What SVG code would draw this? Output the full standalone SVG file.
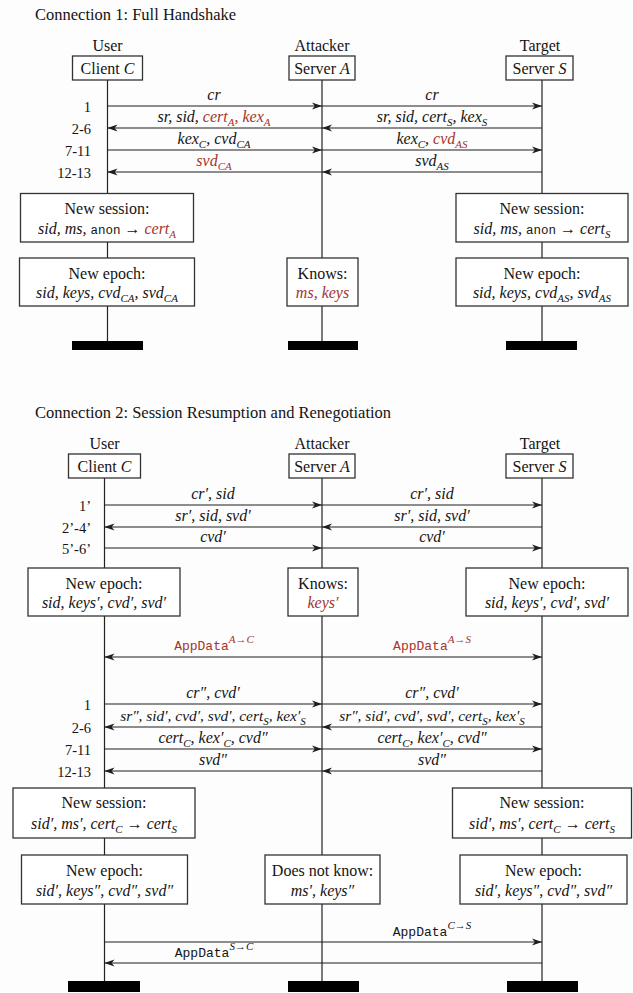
<svg xmlns="http://www.w3.org/2000/svg" width="633" height="993" viewBox="0 0 633 993" font-family="'Liberation Serif', Tinos, 'Times New Roman', 'DejaVu Serif', 'Noto Serif', serif">
<defs>
<marker id="ah" viewBox="0 0 10 8" refX="10" refY="4" markerWidth="10" markerHeight="8" markerUnits="userSpaceOnUse" orient="auto-start-reverse">
<path d="M0,0.5 L10,4 L0,7.5 L2.8,4 z" fill="#1e1e1e"/>
</marker>
<style>
.tx{font-family:'Liberation Serif', Tinos, 'Times New Roman', 'DejaVu Serif', 'Noto Serif', serif;font-size:16px;fill:#141414}
.it{font-style:italic}
.rd{fill:#a3352b}
.sb{font-size:11px}
.mo{font-family:'Liberation Mono', Cousine, 'Courier New', 'DejaVu Sans Mono', monospace;font-size:12.5px;font-style:normal}
.ad{font-size:13px}
.num{font-size:14.5px}
.ttl{font-size:16.5px}
.sm{font-size:15.4px}
.box{fill:#ffffff;stroke:#333;stroke-width:1.3}
.life{stroke:#222;stroke-width:1.2;fill:none}
.msg{stroke:#1e1e1e;stroke-width:1.2;fill:none;marker-end:url(#ah)}
.bi{stroke:#1e1e1e;stroke-width:1.2;fill:none;marker-end:url(#ah);marker-start:url(#ah)}
.bar{fill:#000}
.mid{text-anchor:middle}
.end{text-anchor:end}
</style>
</defs>
<rect width="633" height="993" fill="#fdfdfd"/>

<!-- ================= Connection 1 ================= -->
<text class="tx ttl" x="35" y="20">Connection 1: Full Handshake</text>

<g id="lifelines1">
<line class="life" x1="107.5" y1="80" x2="107.5" y2="341"/>
<line class="life" x1="322" y1="80" x2="322" y2="341"/>
<line class="life" x1="542" y1="80" x2="542" y2="341"/>
</g>

<g id="c1-client">
<text class="tx mid" x="107.5" y="51">User</text>
<rect class="box" x="72.5" y="56" width="70" height="24"/>
<text class="tx mid" x="107.5" y="74">Client <tspan class="it">C</tspan></text>
</g>
<g id="c1-attacker">
<text class="tx mid" x="322" y="51">Attacker</text>
<rect class="box" x="289" y="56" width="66" height="24"/>
<text class="tx mid" x="322" y="74">Server <tspan class="it">A</tspan></text>
</g>
<g id="c1-target">
<text class="tx mid" x="540" y="51">Target</text>
<rect class="box" x="506" y="56" width="67" height="24"/>
<text class="tx mid" x="539.5" y="74">Server <tspan class="it">S</tspan></text>
</g>

<g id="c1-steps">
<text class="tx num end" x="91" y="111.5">1</text>
<text class="tx num end" x="91" y="133.5">2-6</text>
<text class="tx num end" x="91" y="155.5">7-11</text>
<text class="tx num end" x="91" y="177.5">12-13</text>
</g>

<g id="c1-connectors">
<line class="msg" x1="107.5" y1="106" x2="322" y2="106"/>
<line class="msg" x1="322" y1="106" x2="542" y2="106"/>
<line class="msg" x1="322" y1="128" x2="107.5" y2="128"/>
<line class="msg" x1="542" y1="128" x2="322" y2="128"/>
<line class="msg" x1="107.5" y1="150" x2="322" y2="150"/>
<line class="msg" x1="322" y1="150" x2="542" y2="150"/>
<line class="msg" x1="322" y1="172" x2="107.5" y2="172"/>
<line class="msg" x1="542" y1="172" x2="322" y2="172"/>
</g>

<g id="c1-labels">
<text class="tx it mid" x="214" y="100">cr</text>
<text class="tx it mid" x="432" y="100">cr</text>
<text class="tx it mid" x="214" y="122">sr, sid, <tspan class="rd">cert<tspan class="sb" dy="4">A</tspan><tspan dy="-4">, kex</tspan><tspan class="sb" dy="4">A</tspan></tspan></text>
<text class="tx it mid" x="432" y="122">sr, sid, cert<tspan class="sb" dy="4">S</tspan><tspan dy="-4">, kex</tspan><tspan class="sb" dy="4">S</tspan></text>
<text class="tx it mid" x="214" y="144">kex<tspan class="sb" dy="4">C</tspan><tspan dy="-4">, cvd</tspan><tspan class="sb" dy="4">CA</tspan></text>
<text class="tx it mid" x="432" y="144">kex<tspan class="sb" dy="4">C</tspan><tspan dy="-4">, </tspan><tspan class="rd">cvd<tspan class="sb" dy="4">AS</tspan></tspan></text>
<text class="tx it mid rd" x="214" y="166">svd<tspan class="sb" dy="4">CA</tspan></text>
<text class="tx it mid" x="432" y="166">svd<tspan class="sb" dy="4">AS</tspan></text>
</g>

<g id="c1-client-session">
<rect class="box" x="20.5" y="193.5" width="173" height="48.5"/>
<text class="tx mid" x="107" y="213.5">New session:</text>
<text class="tx mid" x="107" y="233.5"><tspan class="it">sid, ms, </tspan><tspan class="mo">anon</tspan> → <tspan class="it rd">cert<tspan class="sb" dy="4">A</tspan></tspan></text>
</g>
<g id="c1-target-session">
<rect class="box" x="456" y="193.5" width="172" height="48.5"/>
<text class="tx mid" x="542" y="213.5">New session:</text>
<text class="tx mid" x="542" y="233.5"><tspan class="it">sid, ms, </tspan><tspan class="mo">anon</tspan> → <tspan class="it">cert<tspan class="sb" dy="4">S</tspan></tspan></text>
</g>
<g id="c1-client-epoch">
<rect class="box" x="19.5" y="258" width="175" height="48"/>
<text class="tx mid" x="107" y="279">New epoch:</text>
<text class="tx it mid" x="107" y="298">sid, keys, cvd<tspan class="sb" dy="4">CA</tspan><tspan dy="-4">, svd</tspan><tspan class="sb" dy="4">CA</tspan></text>
</g>
<g id="c1-attacker-knows">
<rect class="box" x="287" y="258" width="71" height="48"/>
<text class="tx mid" x="322.5" y="279">Knows:</text>
<text class="tx it mid rd" x="322.5" y="298">ms, keys</text>
</g>
<g id="c1-target-epoch">
<rect class="box" x="456" y="258" width="172" height="48"/>
<text class="tx mid" x="542" y="279">New epoch:</text>
<text class="tx it mid" x="542" y="298">sid, keys, cvd<tspan class="sb" dy="4">AS</tspan><tspan dy="-4">, svd</tspan><tspan class="sb" dy="4">AS</tspan></text>
</g>
<g id="c1-ends">
<rect class="bar" x="72" y="341" width="71" height="9"/>
<rect class="bar" x="288" y="341" width="70" height="9"/>
<rect class="bar" x="506" y="341" width="71" height="9"/>
</g>

<!-- ================= Connection 2 ================= -->
<text class="tx ttl" x="35" y="418">Connection 2: Session Resumption and Renegotiation</text>

<g id="lifelines2">
<line class="life" x1="104.5" y1="478" x2="104.5" y2="981"/>
<line class="life" x1="322" y1="478" x2="322" y2="981"/>
<line class="life" x1="542" y1="478" x2="542" y2="981"/>
</g>

<g id="c2-client">
<text class="tx mid" x="104.5" y="449">User</text>
<rect class="box" x="68.5" y="454" width="72" height="24"/>
<text class="tx mid" x="104.5" y="472">Client <tspan class="it">C</tspan></text>
</g>
<g id="c2-attacker">
<text class="tx mid" x="322" y="449">Attacker</text>
<rect class="box" x="289" y="454" width="66" height="24"/>
<text class="tx mid" x="322" y="472">Server <tspan class="it">A</tspan></text>
</g>
<g id="c2-target">
<text class="tx mid" x="540" y="449">Target</text>
<rect class="box" x="506" y="454" width="67" height="24"/>
<text class="tx mid" x="539.5" y="472">Server <tspan class="it">S</tspan></text>
</g>

<g id="c2-steps">
<text class="tx num end" x="91" y="510.5">1’</text>
<text class="tx num end" x="91" y="532.5">2’-4’</text>
<text class="tx num end" x="91" y="553.5">5’-6’</text>
<text class="tx num end" x="91" y="709.5">1</text>
<text class="tx num end" x="91" y="732.5">2-6</text>
<text class="tx num end" x="91" y="754.5">7-11</text>
<text class="tx num end" x="91" y="776.5">12-13</text>
</g>

<g id="c2-connectors">
<line class="msg" x1="104.5" y1="505" x2="322" y2="505"/>
<line class="msg" x1="322" y1="505" x2="542" y2="505"/>
<line class="msg" x1="322" y1="527" x2="104.5" y2="527"/>
<line class="msg" x1="542" y1="527" x2="322" y2="527"/>
<line class="msg" x1="104.5" y1="548" x2="322" y2="548"/>
<line class="msg" x1="322" y1="548" x2="542" y2="548"/>
<line class="bi" x1="104.5" y1="657" x2="542" y2="657"/>
<line class="msg" x1="104.5" y1="704" x2="322" y2="704"/>
<line class="msg" x1="322" y1="704" x2="542" y2="704"/>
<line class="msg" x1="322" y1="727" x2="104.5" y2="727"/>
<line class="msg" x1="542" y1="727" x2="322" y2="727"/>
<line class="msg" x1="104.5" y1="749" x2="322" y2="749"/>
<line class="msg" x1="322" y1="749" x2="542" y2="749"/>
<line class="msg" x1="322" y1="771" x2="104.5" y2="771"/>
<line class="msg" x1="542" y1="771" x2="322" y2="771"/>
<line class="msg" x1="104.5" y1="942" x2="542" y2="942"/>
<line class="msg" x1="542" y1="963" x2="104.5" y2="963"/>
</g>

<g id="c2-labels">
<text class="tx it mid" x="213" y="499">cr′, sid</text>
<text class="tx it mid" x="432" y="499">cr′, sid</text>
<text class="tx it mid" x="213" y="521">sr′, sid, svd′</text>
<text class="tx it mid" x="432" y="521">sr′, sid, svd′</text>
<text class="tx it mid" x="213" y="542">cvd′</text>
<text class="tx it mid" x="432" y="542">cvd′</text>
<text class="tx mid rd" x="214" y="650"><tspan class="mo ad">AppData</tspan><tspan class="it sb" dy="-7">A→C</tspan></text>
<text class="tx mid rd" x="432" y="650"><tspan class="mo ad">AppData</tspan><tspan class="it sb" dy="-7">A→S</tspan></text>
<text class="tx it mid" x="213" y="698">cr″, cvd′</text>
<text class="tx it mid" x="432" y="698">cr″, cvd′</text>
<text class="tx it mid sm" x="213" y="721">sr″, sid′, cvd′, svd′, cert<tspan class="sb" dy="4">S</tspan><tspan dy="-4">, kex′</tspan><tspan class="sb" dy="4">S</tspan></text>
<text class="tx it mid sm" x="432" y="721">sr″, sid′, cvd′, svd′, cert<tspan class="sb" dy="4">S</tspan><tspan dy="-4">, kex′</tspan><tspan class="sb" dy="4">S</tspan></text>
<text class="tx it mid" x="213" y="743">cert<tspan class="sb" dy="4">C</tspan><tspan dy="-4">, kex′</tspan><tspan class="sb" dy="4">C</tspan><tspan dy="-4">, cvd″</tspan></text>
<text class="tx it mid" x="432" y="743">cert<tspan class="sb" dy="4">C</tspan><tspan dy="-4">, kex′</tspan><tspan class="sb" dy="4">C</tspan><tspan dy="-4">, cvd″</tspan></text>
<text class="tx it mid" x="213" y="765">svd″</text>
<text class="tx it mid" x="432" y="765">svd″</text>
<text class="tx mid" x="432" y="936"><tspan class="mo ad">AppData</tspan><tspan class="it sb" dy="-7">C→S</tspan></text>
<text class="tx mid" x="214" y="957"><tspan class="mo ad">AppData</tspan><tspan class="it sb" dy="-7">S→C</tspan></text>
</g>

<g id="c2-client-epoch1">
<rect class="box" x="28" y="568" width="152" height="48"/>
<text class="tx mid" x="104" y="589">New epoch:</text>
<text class="tx it mid" x="104" y="608">sid, keys′, cvd′, svd′</text>
</g>
<g id="c2-attacker-knows">
<rect class="box" x="288" y="568" width="70" height="48"/>
<text class="tx mid" x="323" y="589">Knows:</text>
<text class="tx it mid rd" x="323" y="608">keys′</text>
</g>
<g id="c2-target-epoch1">
<rect class="box" x="466" y="568" width="162" height="48"/>
<text class="tx mid" x="547" y="589">New epoch:</text>
<text class="tx it mid" x="547" y="608">sid, keys′, cvd′, svd′</text>
</g>

<g id="c2-client-session">
<rect class="box" x="13" y="788" width="182" height="50"/>
<text class="tx mid" x="104" y="808">New session:</text>
<text class="tx it mid" x="104" y="829">sid′, ms′, cert<tspan class="sb" dy="4">C</tspan><tspan dy="-4"> <tspan font-style="normal">→</tspan> cert</tspan><tspan class="sb" dy="4">S</tspan></text>
</g>
<g id="c2-target-session">
<rect class="box" x="452.5" y="788" width="179" height="50"/>
<text class="tx mid" x="542" y="808">New session:</text>
<text class="tx it mid" x="542" y="829">sid′, ms′, cert<tspan class="sb" dy="4">C</tspan><tspan dy="-4"> <tspan font-style="normal">→</tspan> cert</tspan><tspan class="sb" dy="4">S</tspan></text>
</g>
<g id="c2-client-epoch2">
<rect class="box" x="21.5" y="855" width="166" height="49"/>
<text class="tx mid" x="104.5" y="876">New epoch:</text>
<text class="tx it mid" x="104.5" y="896">sid′, keys″, cvd″, svd″</text>
</g>
<g id="c2-attacker-notknow">
<rect class="box" x="265" y="855" width="115" height="49"/>
<text class="tx mid" x="322.5" y="876">Does not know:</text>
<text class="tx it mid" x="322.5" y="896">ms′, keys″</text>
</g>
<g id="c2-target-epoch2">
<rect class="box" x="460" y="855" width="167" height="49"/>
<text class="tx mid" x="543.5" y="876">New epoch:</text>
<text class="tx it mid" x="543.5" y="896">sid′, keys″, cvd″, svd″</text>
</g>
<g id="c2-ends">
<rect class="bar" x="68" y="981" width="72" height="11"/>
<rect class="bar" x="288" y="981" width="71" height="11"/>
<rect class="bar" x="507" y="981" width="71" height="11"/>
</g>
</svg>
